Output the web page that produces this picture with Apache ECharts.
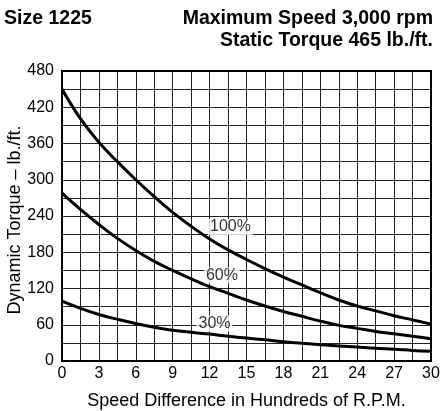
<!DOCTYPE html>
<html>
<head>
<meta charset="utf-8">
<script src="https://cdn.jsdelivr.net/npm/echarts@6/dist/echarts.min.js"></script>
<style>html,body{margin:0;padding:0;background:#fff}#c{width:446px;height:411px}</style>
</head>
<body>
<div id="c"></div>
<script>
var speeds = [0, 1.5, 3, 4.5, 6, 7.5, 9, 10.5, 12, 13.5, 15, 16.5, 18, 19.5, 21, 22.5, 24, 25.5, 27, 28.5, 30];
var torque100 = [450, 401, 362, 330, 300, 272, 246, 223, 202, 184, 168, 153, 139, 126, 113, 101, 91, 83, 75, 68, 61];
var torque60 = [278, 251, 226, 203, 183, 165, 150, 136, 123, 112, 101, 91, 82, 74, 66, 59, 54, 49, 45, 41, 37];
var torque30 = [99, 87, 77, 69, 62, 56, 51, 47.5, 44.5, 41, 38, 35, 32, 29.5, 27, 25, 23, 21, 19.5, 17.5, 16];
var curveNames = ['100%', '60%', '30%'];
var labelX = [13.7, 13.0, 12.4];
var labelY = [222, 142, 62];
var titleLeft = 'Size 1225';
var titleRight = ['Maximum Speed 3,000 rpm', 'Static Torque 465 lb./ft.'];
var xName = 'Speed Difference in Hundreds of R.P.M.';
var yName = 'Dynamic Torque \u2013 lb./ft.';

var FONT = '"Liberation Sans", Arial, Helvetica, sans-serif';
function pairs(xs, ys) { return xs.map(function (x, i) { return [x, ys[i]]; }); }
var curves = [torque100, torque60, torque30];
var series = curves.map(function (c, i) {
  return {
    name: curveNames[i], type: 'line', data: pairs(speeds, c), smooth: 0.4,
    showSymbol: false, symbol: 'none', lineStyle: { color: '#000', width: 3 }, z: 5, silent: true
  };
});
series.push({
  type: 'scatter', symbolSize: 1, itemStyle: { color: 'rgba(0,0,0,0)' }, z: 10, silent: true,
  data: labelX.map(function (x, i) { return { value: [x, labelY[i]], name: curveNames[i] }; }),
  label: {
    show: true, position: 'inside', formatter: '{b}', color: '#000', fontFamily: FONT, fontSize: 16,
    backgroundColor: '#fff', padding: [0, 2, 0, 2]
  }
});

var titleFont = 'bold 19.5px ' + FONT;
var chart = echarts.init(document.getElementById('c'), null, { renderer: 'canvas' });
chart.setOption({
  animation: false,
  backgroundColor: '#fff',
  graphic: [
    { type: 'text', x: 4, y: 18.5, style: { text: titleLeft, font: titleFont, fill: '#000', textAlign: 'left', textVerticalAlign: 'middle' } },
    { type: 'text', x: 433, y: 18.5, style: { text: titleRight[0], font: titleFont, fill: '#000', textAlign: 'right', textVerticalAlign: 'middle' } },
    { type: 'text', x: 433, y: 40.5, style: { text: titleRight[1], font: titleFont, fill: '#000', textAlign: 'right', textVerticalAlign: 'middle' } }
  ],
  grid: { left: 62, right: 15, top: 71, bottom: 50, show: true, borderColor: '#000', borderWidth: 2,
    backgroundColor: 'transparent', z: 3, outerBoundsMode: 'none', containLabel: false },
  xAxis: {
    type: 'value', min: 0, max: 30, interval: 3,
    name: xName, nameLocation: 'middle', nameGap: 31, nameMoveOverlap: false,
    nameTextStyle: { fontFamily: FONT, fontSize: 18, color: '#000' },
    axisLine: { show: true, lineStyle: { color: '#000', width: 2 } },
    axisTick: { show: false },
    axisLabel: { fontFamily: FONT, fontSize: 16, color: '#000', margin: 5 },
    splitLine: { show: true, lineStyle: { color: '#222', width: 1 } },
    minorTick: { show: false, splitNumber: 2 },
    minorSplitLine: { show: true, lineStyle: { color: '#222', width: 1 } }
  },
  yAxis: {
    type: 'value', min: 0, max: 480, interval: 60,
    name: yName, nameLocation: 'middle', nameGap: 38, nameRotate: 90, nameMoveOverlap: false,
    nameTextStyle: { fontFamily: FONT, fontSize: 18, color: '#000', padding: [0, 8, 0, 0] },
    axisLine: { show: true, lineStyle: { color: '#000', width: 2 } },
    axisTick: { show: false },
    axisLabel: { fontFamily: FONT, fontSize: 16, color: '#000', margin: 8 },
    splitLine: { show: true, lineStyle: { color: '#222', width: 1 } },
    minorTick: { show: false, splitNumber: 2 },
    minorSplitLine: { show: true, lineStyle: { color: '#222', width: 1 } }
  },
  series: series
});
</script>
</body>
</html>
